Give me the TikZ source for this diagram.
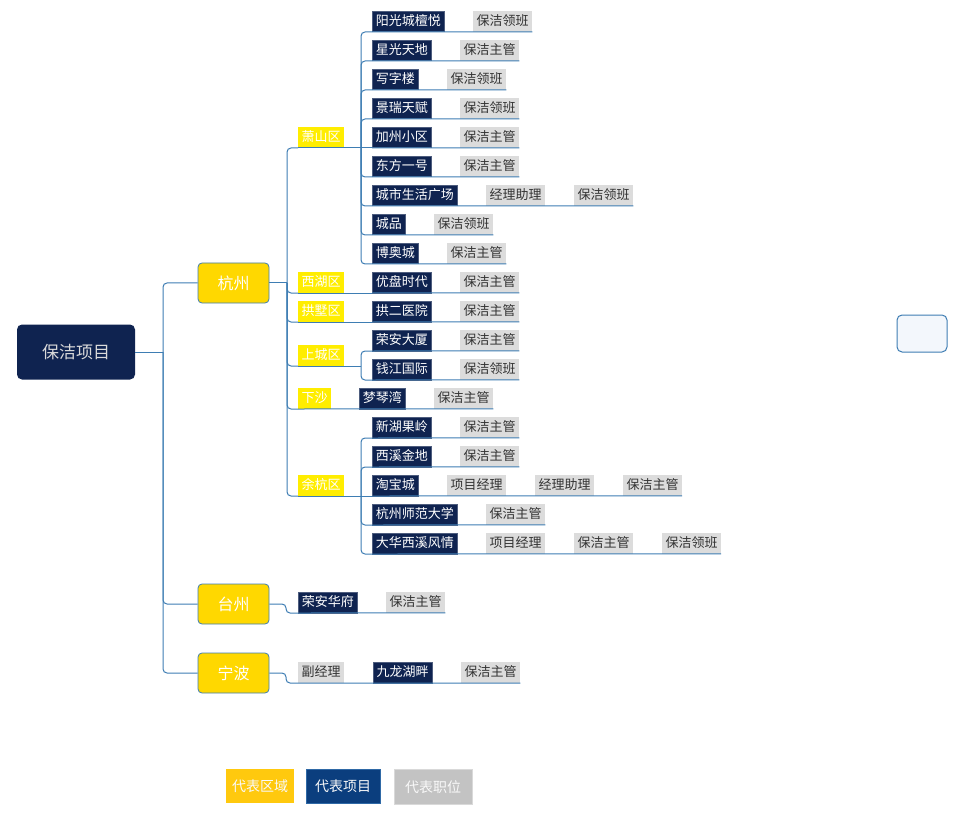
\documentclass[tikz,border=0pt]{standalone}
\usepackage{fontspec}
\newfontfamily\cjk{Noto Sans CJK SC}
\usetikzlibrary{positioning}

\definecolor{navy}{HTML}{0F2350}
\definecolor{navyedge}{HTML}{4E5D7E}
\definecolor{linec}{HTML}{3E7DB3}
\definecolor{areay}{HTML}{FFED00}
\definecolor{cityy}{HTML}{FFD800}
\definecolor{roleg}{HTML}{DCDCDC}
\definecolor{roletxt}{HTML}{333333}
\definecolor{rootxt}{HTML}{DADADA}
\definecolor{legy}{HTML}{FFC90E}
\definecolor{legb}{HTML}{0B3E7E}
\definecolor{legbd}{HTML}{2F69A6}
\definecolor{legg}{HTML}{C3C3C3}
\definecolor{leggd}{HTML}{D9D9D9}
\definecolor{blankc}{HTML}{F3F7FC}

\tikzset{
    conn/.style={draw=linec, line width=1pt, rounded corners=4pt},
    tag/.style={font=\cjk\fontsize{13}{15}\selectfont, inner xsep=3.5pt, inner ysep=0pt,
            text height=10pt, text depth=2pt, minimum height=20.5pt, anchor=south west},
    proj/.style={tag, fill=navy, draw=navyedge, line width=0.5pt, text=white},
    role/.style={tag, fill=roleg, text=roletxt},
    area/.style={tag, fill=areay, text=white},
    city/.style={font=\cjk\fontsize{16}{18}\selectfont, fill=cityy, draw=linec, line width=0.8pt,
            rounded corners=4pt, text=white, minimum width=71pt, minimum height=40pt},
    rootbox/.style={font=\cjk\fontsize{17}{19}\selectfont, fill=navy, rounded corners=5pt,
            text=rootxt, minimum width=118pt, minimum height=55pt},
    legend/.style={font=\cjk\fontsize{14}{16}\selectfont, text=white!95!gray, minimum height=34pt}
}

\begin{document}
\begin{tikzpicture}[x=1pt, y=-1pt]
        \useasboundingbox (0,0) rectangle (958,826);

        % Root and cities
        \node[rootbox] (root) at (76,352) {保洁项目};
        \node[city] (hz) at (233.5,283) {杭州};
        \node[city] (tz) at (233.5,604) {台州};
        \node[city] (nb) at (233.5,673) {宁波};

        % Junctions
        \coordinate (root-j) at (163,352);
        \coordinate (hz-j) at (287,283);
        \coordinate (tz-j) at (286,604);
        \coordinate (nb-j) at (286,673);
        \coordinate (xs-j) at (361,148);
        \coordinate (xh-j) at (361,293);
        \coordinate (gs-j) at (361,322);
        \coordinate (sc-j) at (361,366);
        \coordinate (yh-j) at (361,496);

        % Districts of Hangzhou
        \node[area] (xs) at (298,148) {萧山区};
        \node[area] (xh) at (298,293) {西湖区};
        \node[area] (gs) at (298,322) {拱墅区};
        \node[area] (sc) at (298,366) {上城区};
        \node[area] (xsh) at (298,409) {下沙};
        \node[area] (yh) at (298,496) {余杭区};

        % Projects with their posts
        \foreach \id/\y/\pname/\roles in {
                xs1/32/阳光城檀悦/{保洁领班},
                xs2/61/星光天地/{保洁主管},
                xs3/90/写字楼/{保洁领班},
                xs4/119/景瑞天赋/{保洁领班},
                xs5/148/加州小区/{保洁主管},
                xs6/177/东方一号/{保洁主管},
                xs7/206/城市生活广场/{经理助理,保洁领班},
                xs8/235/城品/{保洁领班},
                xs9/264/博奥城/{保洁主管},
                xh1/293/优盘时代/{保洁主管},
                gs1/322/拱二医院/{保洁主管},
                sc1/351/荣安大厦/{保洁主管},
                sc2/380/钱江国际/{保洁领班},
                yh1/438/新湖果岭/{保洁主管},
                yh2/467/西溪金地/{保洁主管},
                yh3/496/淘宝城/{项目经理,经理助理,保洁主管},
                yh4/525/杭州师范大学/{保洁主管},
                yh5/554/大华西溪风情/{项目经理,保洁主管,保洁领班}} {
                \node[proj] (\id) at (372,\y) {\pname};
                \xdef\prevtag{\id}
                \foreach \r [count=\k] in \roles {
                        \node[role, right=28.5pt of \prevtag] (\id-\k) {\r};
                        \xdef\prevtag{\id-\k}
                    }
                \draw[conn] (\id.south west) -- (\prevtag.south east);
            }

        % Xiasha, Taizhou and Ningbo rows
        \node[proj] (mqw) at (359,409) {梦琴湾};
        \node[role, right=28.5pt of mqw] (mqw-1) {保洁主管};
        \node[proj] (rahf) at (298,613) {荣安华府};
        \node[role, right=28.5pt of rahf] (rahf-1) {保洁主管};
        \node[role] (fjl) at (298,683) {副经理};
        \node[proj, right=28.5pt of fjl] (jlhp) {九龙湖畔};
        \node[role, right=28.5pt of jlhp] (jlhp-1) {保洁主管};

        % Connectors
        \draw[conn] (root.east) -- (root-j);
        \foreach \c in {hz, tz, nb} {
                \draw[conn] (root-j) |- (\c.west);
            }
        \draw[conn] (hz.east) -- (hz-j);
        \foreach \d in {xs, xh, gs, sc, xsh, yh} {
                \draw[conn] (hz-j) |- (\d.south west);
            }
        \foreach \d in {xs, xh, gs, sc, yh} {
                \draw[conn] (\d.south west) -- (\d-j);
            }
        \foreach \d/\p in {xs/xs1, xs/xs2, xs/xs3, xs/xs4, xs/xs6, xs/xs7, xs/xs8, xs/xs9,
                sc/sc1, sc/sc2, yh/yh1, yh/yh2, yh/yh4, yh/yh5} {
                \draw[conn] (\d-j) |- (\p.south west);
            }
        \foreach \d/\p in {xs/xs5, xh/xh1, gs/gs1, yh/yh3} {
                \draw[conn] (\d-j) -- (\p.south west);
            }
        \draw[conn] (xsh.south west) -- (mqw-1.south east);
        \draw[conn] (tz.east) -- (tz-j) |- (rahf.south west) -- (rahf-1.south east);
        \draw[conn] (nb.east) -- (nb-j) |- (fjl.south west) -- (jlhp-1.south east);

        % Empty box
        \node[draw=linec, fill=blankc, line width=1pt, rounded corners=5pt,
            minimum width=50pt, minimum height=37pt] (blank) at (922,333.5) {};

        % Legend
        \node[legend, fill=legy, minimum width=68pt] (lg1) at (260,786) {代表区域};
        \node[legend, fill=legb, draw=legbd, minimum width=74pt] (lg2) at (343,786) {代表项目};
        \node[legend, fill=legg, draw=leggd, minimum width=78pt, minimum height=35pt] (lg3) at (433,787) {代表职位};
    \end{tikzpicture}
\end{document}
